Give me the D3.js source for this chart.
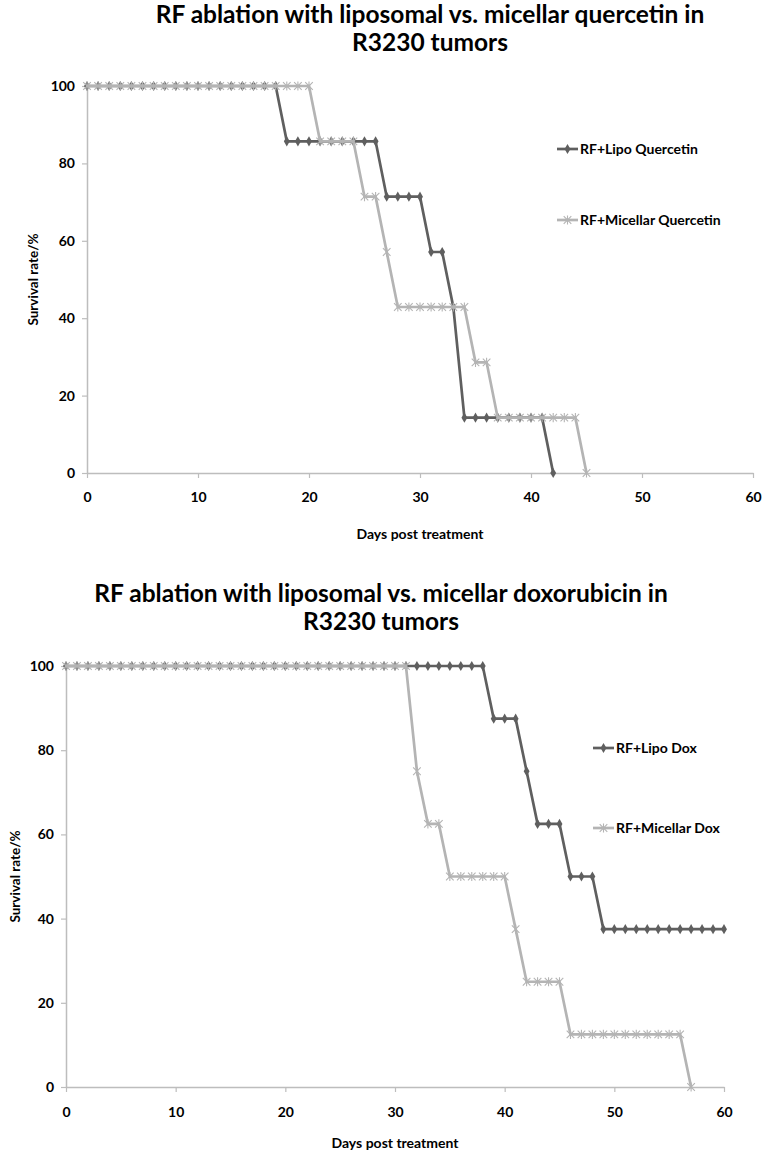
<!DOCTYPE html>
<html><head><meta charset="utf-8">
<script src="https://cdn.jsdelivr.net/npm/d3@7"></script>
<style>
body{margin:0;background:#fff;}
svg{display:block;font-family:Lato,"Open Sans",sans-serif;font-weight:bold;}
</style></head>
<body><svg id="c" width="768" height="1156"></svg>
<script>
const days = [0,1,2,3,4,5,6,7,8,9,10,11,12,13,14,15,16,17,18,19,20,21,22,23,24,25,26,27,28,29,30,31,32,33,34,35,36,37,38,39,40,41,42,43,44,45,46,47,48,49,50,51,52,53,54,55,56,57,58,59,60];
const xTicks = [0,10,20,30,40,50,60];
const yTicks = [0,20,40,60,80,100];

// Chart 1: quercetin (days start at 0, one value per day)
const lipoQuercetin = [100,100,100,100,100,100,100,100,100,100,100,100,100,100,100,100,100,100,
  85.7,85.7,85.7,85.7,85.7,85.7,85.7,85.7,85.7,
  71.4,71.4,71.4,71.4,
  57.1,57.1,
  42.9,
  14.3,14.3,14.3,14.3,14.3,14.3,14.3,14.3,
  0];
const micellarQuercetin = [100,100,100,100,100,100,100,100,100,100,100,100,100,100,100,100,100,100,100,100,100,
  85.7,85.7,85.7,85.7,
  71.4,71.4,
  57.1,
  42.9,42.9,42.9,42.9,42.9,42.9,42.9,
  28.6,28.6,
  14.3,14.3,14.3,14.3,14.3,14.3,14.3,14.3,
  0];

// Chart 2: doxorubicin
const lipoDox = [100,100,100,100,100,100,100,100,100,100,100,100,100,100,100,100,100,100,100,100,
  100,100,100,100,100,100,100,100,100,100,100,100,100,100,100,100,100,100,100,
  87.5,87.5,87.5,
  75,
  62.5,62.5,62.5,
  50,50,50,
  37.5,37.5,37.5,37.5,37.5,37.5,37.5,37.5,37.5,37.5,37.5,37.5];
const micellarDox = [100,100,100,100,100,100,100,100,100,100,100,100,100,100,100,100,100,100,100,100,
  100,100,100,100,100,100,100,100,100,100,100,100,
  75,
  62.5,62.5,
  50,50,50,50,50,50,
  37.5,
  25,25,25,25,
  12.5,12.5,12.5,12.5,12.5,12.5,12.5,12.5,12.5,12.5,12.5,
  0];

const charts = [
  {title:["RF ablation with liposomal vs. micellar quercetin in","R3230 tumors"],
   s1:lipoQuercetin, s2:micellarQuercetin,
   n1:"RF+Lipo Quercetin", n2:"RF+Micellar Quercetin",
   x0:87, x1:753, yTop:86, yBot:473, titleX:430, titleY:[23,51],
   tickLabY:502, xTitleY:539, yTitleX:38, legX:557, legY:[149,220]},
  {title:["RF ablation with liposomal vs. micellar doxorubicin in","R3230 tumors"],
   s1:lipoDox, s2:micellarDox,
   n1:"RF+Lipo Dox", n2:"RF+Micellar Dox",
   x0:66, x1:724, yTop:666, yBot:1087, titleX:381, titleY:[602,630],
   tickLabY:1117, xTitleY:1148, yTitleX:20, legX:593, legY:[748,828]}
];

const dark = "#5f5f5f", light = "#b4b4b4", axisCol = "#bdbdbd";
const svg = d3.select("#c");

function diamond(g, x, y, col){
  g.append("path").attr("d", d3.symbol().type(d3.symbolDiamond).size(30)())
   .attr("transform", `translate(${x},${y})`).attr("fill", col);
}
function star(g, x, y, col){
  const r = 3.8;
  g.append("path").attr("d", `M${x-r},${y-r}L${x+r},${y+r}M${x-r},${y+r}L${x+r},${y-r}M${x},${y-r-0.8}L${x},${y+r+0.8}`)
   .attr("stroke", col).attr("stroke-width", 1.1).attr("fill","none");
}

charts.forEach(c => {
  const g = svg.append("g");
  const x = d3.scaleLinear().domain([0,60]).range([c.x0, c.x1]);
  const y = d3.scaleLinear().domain([0,100]).range([c.yBot, c.yTop]);

  g.selectAll("text.title").data(c.title).enter().append("text")
   .attr("x", c.titleX).attr("y", (d,i)=>c.titleY[i]).attr("text-anchor","middle")
   .attr("font-size", 24.5).attr("fill","#000").text(d=>d);

  // axes
  const xa = g.append("g").attr("transform", `translate(0,${c.yBot})`)
    .call(d3.axisBottom(x).tickValues(xTicks).tickSize(5).tickSizeOuter(0).tickFormat(d3.format("d")));
  const ya = g.append("g").attr("transform", `translate(${c.x0},0)`)
    .call(d3.axisLeft(y).tickValues(yTicks).tickSize(5).tickSizeOuter(0).tickFormat(d3.format("d")));
  [xa, ya].forEach(a => {
    a.select(".domain").attr("stroke", axisCol).attr("stroke-width", 1.5);
    a.selectAll(".tick line").attr("stroke", axisCol).attr("stroke-width", 1.2);
    a.selectAll(".tick text").attr("fill","#000").attr("font-size", 14)
      .attr("font-family","Lato, sans-serif").attr("font-weight","bold");
  });
  xa.selectAll(".tick text").attr("dy", null).attr("y", c.tickLabY - c.yBot);
  ya.selectAll(".tick text").attr("x", -12);

  g.append("text").attr("x", (c.x0+c.x1)/2).attr("y", c.xTitleY).attr("text-anchor","middle")
   .attr("font-size", 14).attr("fill","#000").text("Days post treatment");
  g.append("text").attr("transform", `translate(${c.yTitleX},${(c.yTop+c.yBot)/2}) rotate(-90)`)
   .attr("text-anchor","middle").attr("font-size", 13.5).attr("fill","#000").text("Survival rate/%");

  const line = d3.line().x((d,i)=>x(days[i])).y(d=>y(d));
  g.append("path").datum(c.s1).attr("d", line).attr("fill","none").attr("stroke", dark).attr("stroke-width", 2.7);
  c.s1.forEach((v,i)=>diamond(g, x(days[i]), y(v), dark));
  g.append("path").datum(c.s2).attr("d", line).attr("fill","none").attr("stroke", light).attr("stroke-width", 2.7);
  c.s2.forEach((v,i)=>star(g, x(days[i]), y(v), light));

  // legend
  const names = [c.n1, c.n2], cols = [dark, light];
  names.forEach((n,k)=>{
    const ly = c.legY[k];
    g.append("line").attr("x1", c.legX).attr("x2", c.legX+21).attr("y1", ly).attr("y2", ly)
     .attr("stroke", cols[k]).attr("stroke-width", 2.7);
    if(k===0) diamond(g, c.legX+10.5, ly, dark); else star(g, c.legX+10.5, ly, light);
    g.append("text").attr("x", c.legX+23).attr("y", ly).attr("dy","0.35em")
     .attr("font-size", 14).attr("fill","#000").text(n);
  });
});
</script></body></html>
